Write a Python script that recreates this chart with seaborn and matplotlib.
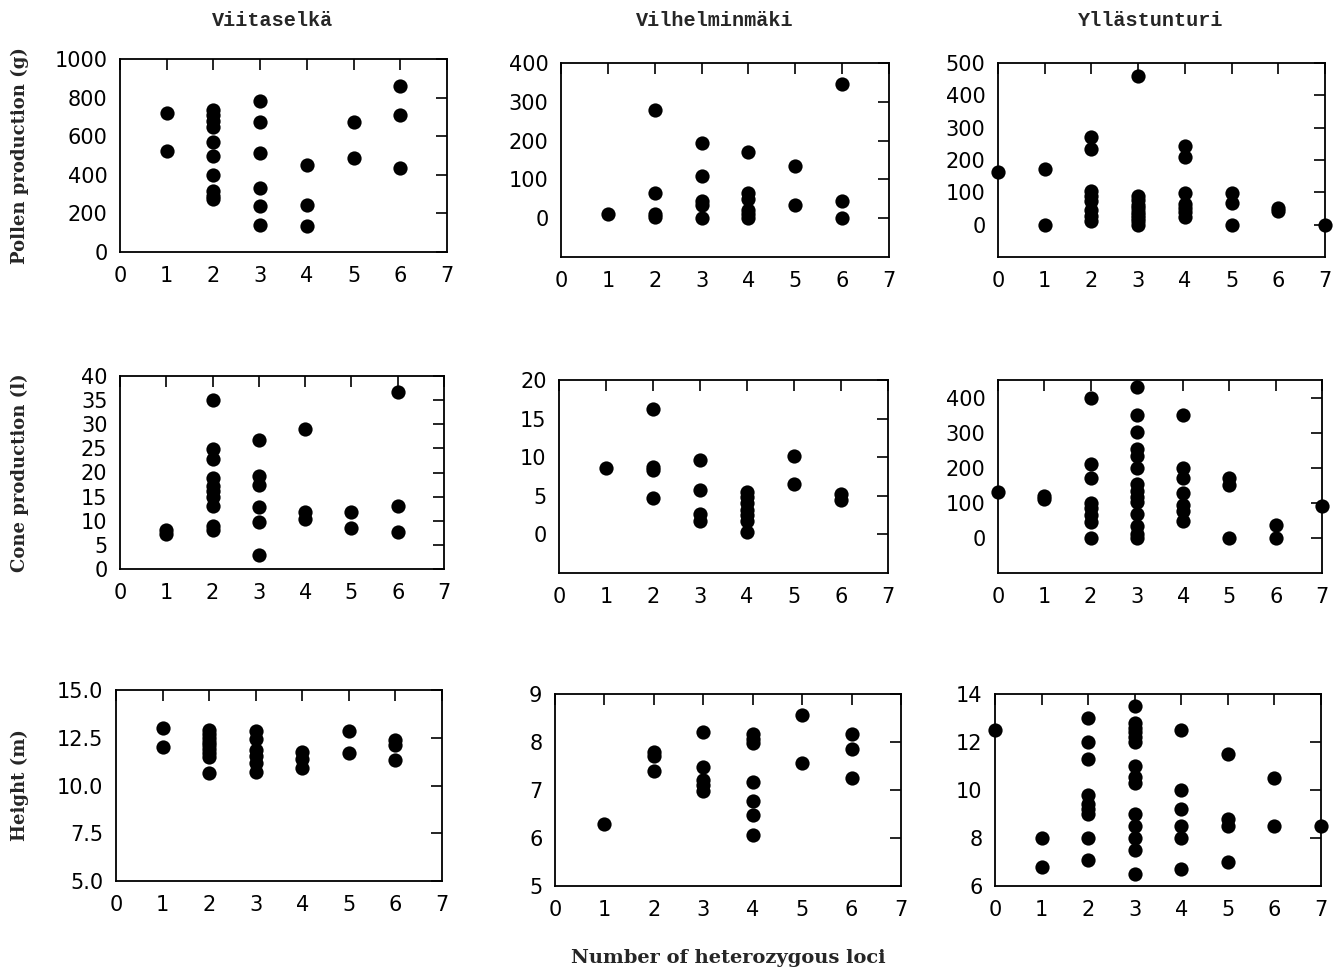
import matplotlib
matplotlib.use("Agg")
import matplotlib.pyplot as plt
import seaborn as sns
import pandas as pd

# ── data (x = number of heterozygous loci) ──
viita_pollen_x = [1, 1, 2, 2, 2, 2, 2, 2, 2, 2, 2, 2, 3, 3, 3, 3, 3, 3, 4, 4, 4, 5, 5, 6, 6, 6]
viita_pollen_y = [720, 525, 735, 710, 680, 650, 570, 500, 400, 315, 290, 275,
                  780, 675, 515, 330, 240, 140, 450, 245, 135, 675, 485, 860, 710, 435]

vilh_pollen_x = [1, 2, 2, 2, 2, 3, 3, 3, 3, 3, 4, 4, 4, 4, 4, 4, 5, 5, 6, 6, 6]
vilh_pollen_y = [10, 280, 65, 10, 4, 195, 110, 45, 35, 0, 170, 65, 50, 20, 10, 0, 135, 33, 345, 45, 0]

ylla_pollen_x = [0, 1, 1, 2, 2, 2, 2, 2, 2, 2, 2, 3, 3, 3, 3, 3, 3, 3, 3, 3, 3,
                 4, 4, 4, 4, 4, 4, 4, 5, 5, 5, 6, 6, 7]
ylla_pollen_y = [163, 171, 0, 270, 235, 105, 88, 72, 45, 28, 12,
                 460, 88, 75, 62, 50, 40, 30, 20, 10, 0,
                 244, 210, 98, 65, 50, 38, 25, 97, 66, 0, 50, 42, 0]

viita_cone_x = [1, 1, 2, 2, 2, 2, 2, 2, 2, 2, 2, 2, 3, 3, 3, 3, 3, 3, 4, 4, 4, 5, 5, 6, 6, 6]
viita_cone_y = [8, 7.3, 35, 24.8, 22.8, 18.8, 17.3, 16.2, 15, 13, 9, 8.1,
                26.7, 19.2, 17.5, 12.9, 9.8, 3, 29.1, 11.9, 10.3, 11.9, 8.4, 36.6, 13, 7.6]

vilh_cone_x = [1, 2, 2, 2, 2, 3, 3, 3, 3, 4, 4, 4, 4, 4, 4, 4, 5, 5, 6, 6]
vilh_cone_y = [8.6, 16.2, 8.7, 8.3, 4.7, 9.6, 5.7, 2.6, 1.8,
               5.5, 4.8, 4.1, 3.2, 2.5, 1.8, 0.3, 10.1, 6.5, 5.2, 4.5]

ylla_cone_x = [0, 1, 1, 2, 2, 2, 2, 2, 2, 2, 2,
               3, 3, 3, 3, 3, 3, 3, 3, 3, 3, 3, 3, 3, 3,
               4, 4, 4, 4, 4, 4, 4, 5, 5, 5, 6, 6, 7]
ylla_cone_y = [130, 120, 110, 400, 210, 170, 100, 85, 65, 45, 0,
               431, 351, 301, 253, 234, 198, 154, 135, 116, 102, 67, 34, 12, 0,
               351, 200, 170, 129, 93, 78, 48, 170, 150, 0, 36, 0, 90]

viita_height_x = [1, 1, 2, 2, 2, 2, 2, 2, 2, 2, 2, 3, 3, 3, 3, 3, 3, 4, 4, 4, 5, 5, 6, 6, 6]
viita_height_y = [13, 12, 12.9, 12.7, 12.5, 12.3, 12.1, 11.9, 11.7, 11.5, 10.65,
                  12.85, 12.45, 11.85, 11.55, 11.2, 10.7, 11.75, 11.4, 10.9,
                  12.85, 11.7, 12.4, 12.1, 11.35]

vilh_height_x = [1, 2, 2, 2, 3, 3, 3, 3, 3, 4, 4, 4, 4, 4, 4, 4, 5, 5, 6, 6, 6]
vilh_height_y = [6.3, 7.8, 7.7, 7.4, 8.2, 7.48, 7.2, 7.1, 6.98,
                 8.17, 8.06, 7.97, 7.17, 6.78, 6.47, 6.07, 8.57, 7.56, 8.17, 7.86, 7.26]

ylla_height_x = [0, 1, 1, 2, 2, 2, 2, 2, 2, 2, 2, 2,
                 3, 3, 3, 3, 3, 3, 3, 3, 3, 3, 3, 3, 3, 3,
                 4, 4, 4, 4, 4, 4, 5, 5, 5, 5, 6, 6, 7]
ylla_height_y = [12.5, 8, 6.8, 13, 12, 11.3, 9.8, 9.4, 9.2, 9.0, 8, 7.1,
                 13.5, 12.8, 12.6, 12.4, 12.2, 12.0, 11.0, 10.55, 10.3, 9.0, 8.5, 8.0, 7.5, 6.5,
                 12.5, 10, 9.2, 8.5, 8, 6.7, 11.5, 8.8, 8.5, 7.0, 10.5, 8.5, 8.5]

sites = ["Viitaselkä", "Vilhelminmäki", "Yllästunturi"]
row_labels = ["Pollen production (g)", "Cone production (l)", "Height (m)"]
x_label = "Number of heterozygous loci"

# ──────────────────────────────────────────────
W, H = 1339, 975

# per panel: data, ylim, yticks, tick format, pixel box (left, right, top, bottom)
panels = [
    (viita_pollen_x, viita_pollen_y, (0, 1000), range(0, 1001, 200), "{:.0f}", (120, 447, 59, 252)),
    (vilh_pollen_x, vilh_pollen_y, (-100, 400), range(0, 401, 100), "{:.0f}", (561, 889, 63, 257)),
    (ylla_pollen_x, ylla_pollen_y, (-100, 500), range(0, 501, 100), "{:.0f}", (998, 1325, 63, 257)),
    (viita_cone_x, viita_cone_y, (0, 40), range(0, 41, 5), "{:.0f}", (120, 444, 376, 569)),
    (vilh_cone_x, vilh_cone_y, (-5, 20), range(0, 21, 5), "{:.0f}", (559, 888, 380, 573)),
    (ylla_cone_x, ylla_cone_y, (-100, 450), range(0, 401, 100), "{:.0f}", (998, 1322, 380, 573)),
    (viita_height_x, viita_height_y, (5, 15), [5, 7.5, 10, 12.5, 15], "{:.1f}", (116, 442, 690, 881)),
    (vilh_height_x, vilh_height_y, (5, 9), range(5, 10), "{:.0f}", (555, 901, 694, 886)),
    (ylla_height_x, ylla_height_y, (6, 14), range(6, 15, 2), "{:.0f}", (995, 1321, 694, 886)),
]

sns.set_style("white")
plt.rcParams["font.family"] = ["DejaVu Sans"]

fig = plt.figure(figsize=(W / 100, H / 100), dpi=100)

axes = []
for xs, ys, ylim, yticks, fmt, (l, r, t, b) in panels:
    ax = fig.add_axes([l / W, 1 - b / H, (r - l) / W, (b - t) / H])
    df = pd.DataFrame({"loci": xs, "value": ys})
    sns.scatterplot(data=df, x="loci", y="value", ax=ax, color="black",
                    s=105, linewidth=0, clip_on=False, zorder=5)
    ax.set_xlim(0, 7)
    ax.set_ylim(*ylim)
    ax.set_xticks(range(0, 8))
    ax.set_yticks(list(yticks))
    ax.set_yticklabels([fmt.format(v) for v in yticks])
    ax.set_xlabel("")
    ax.set_ylabel("")
    ax.tick_params(direction="in", length=8, width=1.2, top=True, right=True,
                   labelsize=15, colors="black")
    ax.tick_params(axis="x", pad=10)
    ax.tick_params(axis="y", pad=9)
    for sp in ax.spines.values():
        sp.set_visible(True)
        sp.set_color("black")
        sp.set_linewidth(1.3)
    axes.append(ax)

# column titles
for i, name in enumerate(sites):
    l, r = panels[i][5][0], panels[i][5][1]
    fig.text((l + r) / 2 / W - 0.008, 1 - 20 / H, name, ha="center", va="center",
             family="Liberation Mono", fontweight="bold", fontsize=14.5)

# row labels
for i, lab in enumerate(row_labels):
    t, b = panels[i * 3][5][2], panels[i * 3][5][3]
    fig.text(20 / W, 1 - (t + b) / 2 / H, lab, rotation=90, ha="center", va="center",
             family="DejaVu Serif", fontweight="bold", fontsize=13)

fig.text(728 / W, 1 - 958 / H, x_label, ha="center", va="center",
         family="DejaVu Serif", fontweight="bold", fontsize=14)

fig.savefig("out.png", dpi=100)
plt.close(fig)
